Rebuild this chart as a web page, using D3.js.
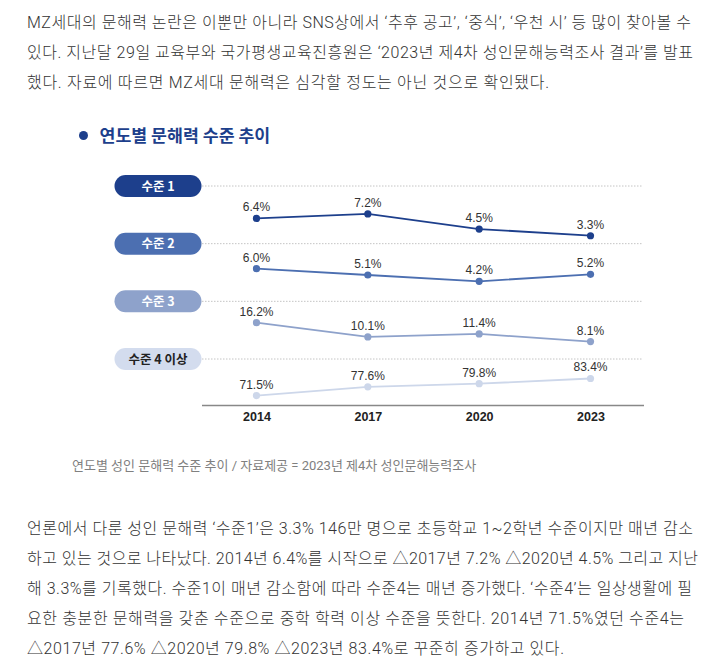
<!DOCTYPE html>
<html><head><meta charset="utf-8">
<script src="https://cdn.jsdelivr.net/npm/d3@7"></script>
<style>
html,body{margin:0;padding:0;background:#fff;}
svg{display:block;}
</style></head>
<body>
<script>
// ---- data ----
const years = ["2014", "2017", "2020", "2023"];
const levelNames = ["수준 1", "수준 2", "수준 3", "수준 4 이상"];
const level1 = [6.4, 7.2, 4.5, 3.3];
const level2 = [6.0, 5.1, 4.2, 5.2];
const level3 = [16.2, 10.1, 11.4, 8.1];
const level4 = [71.5, 77.6, 79.8, 83.4];
const chartTitle = "연도별 문해력 수준 추이";
const caption = "연도별 성인 문해력 수준 추이 / 자료제공 = 2023년 제4차 성인문해능력조사";
const introLines = [
  "MZ세대의 문해력 논란은 이뿐만 아니라 SNS상에서 ‘추후 공고’, ‘중식’, ‘우천 시’ 등 많이 찾아볼 수",
  "있다. 지난달 29일 교육부와 국가평생교육진흥원은 ‘2023년 제4차 성인문해능력조사 결과’를 발표",
  "했다. 자료에 따르면 MZ세대 문해력은 심각할 정도는 아닌 것으로 확인됐다."
];
const bodyLines = [
  "언론에서 다룬 성인 문해력 ‘수준1’은 3.3% 146만 명으로 초등학교 1~2학년 수준이지만 매년 감소",
  "하고 있는 것으로 나타났다. 2014년 6.4%를 시작으로 △2017년 7.2% △2020년 4.5% 그리고 지난",
  "해 3.3%를 기록했다. 수준1이 매년 감소함에 따라 수준4는 매년 증가했다. ‘수준4’는 일상생활에 필",
  "요한 충분한 문해력을 갖춘 수준으로 중학 학력 이상 수준을 뜻한다. 2014년 71.5%였던 수준4는",
  "△2017년 77.6% △2020년 79.8% △2023년 83.4%로 꾸준히 증가하고 있다."
];

// ---- layout / style ----
const W = 716, H = 672;
const introWidths = [664, 666, 522];
const bodyWidths = [666, 671, 665, 657, 537];
const series = [
  {name: levelNames[0], values: level1, color: "#1d3f8c", pill: "#1d3f8c", text: "#fff", domain: [3, 8], off: [51.4, 23.5]},
  {name: levelNames[1], values: level2, color: "#4c6fb1", pill: "#4c6fb1", text: "#fff", domain: [4, 7], off: [39.1, 17.9]},
  {name: levelNames[2], values: level3, color: "#8ea2cb", pill: "#8ea2cb", text: "#fff", domain: [8, 17], off: [40.5, 19.5]},
  {name: levelNames[3], values: level4, color: "#cdd7ea", pill: "#d3dcee", text: "#222", domain: [70, 85], off: [38.75, 17.2]}
];
const bandY = d3.scalePoint().domain(levelNames).range([186, 359]);
const x = d3.scalePoint().domain(years).range([256.5, 590.5]);
const plotL = 202, plotR = 644, axisY = 405.5;

const svg = d3.select("body").append("svg").attr("width", W).attr("height", H);

const paraFont = "Roboto, 'Noto Sans CJK KR', sans-serif";
svg.append("g").selectAll("text").data(introLines).join("text")
  .attr("x", 27).attr("y", (d, i) => 28 + i * 30)
  .attr("textLength", (d, i) => introWidths[i]).attr("lengthAdjust", "spacing")
  .attr("font-family", paraFont).attr("font-size", 16).attr("font-weight", 300).attr("fill", "#333")
  .text(d => d);
svg.append("g").selectAll("text").data(bodyLines).join("text")
  .attr("x", 27).attr("y", (d, i) => 534 + i * 30)
  .attr("textLength", (d, i) => bodyWidths[i]).attr("lengthAdjust", "spacing")
  .attr("font-family", paraFont).attr("font-size", 16).attr("font-weight", 300).attr("fill", "#333")
  .text(d => d);

// title
svg.append("circle").attr("cx", 83.5).attr("cy", 135.5).attr("r", 4.5).attr("fill", "#1d3f8c");
svg.append("text").attr("x", 99.5).attr("y", 142)
  .attr("font-family", "'Noto Sans CJK KR', sans-serif").attr("font-weight", 700)
  .attr("font-size", 17.3).attr("fill", "#1d3f8c").text(chartTitle);

// dotted lines and pills
const g = svg.append("g");
series.forEach(s => {
  const cy = bandY(s.name);
  g.append("line").attr("x1", plotL).attr("x2", plotR - 1).attr("y1", cy).attr("y2", cy)
    .attr("stroke", "#c4c4c4").attr("stroke-width", 1).attr("stroke-dasharray", "1.5,1.5");
  g.append("rect").attr("x", 114.5).attr("y", cy - 11).attr("width", 87).attr("height", 22)
    .attr("rx", 11).attr("fill", s.pill);
  g.append("text").attr("x", 158).attr("y", cy + 4.5).attr("text-anchor", "middle")
    .attr("font-family", "'Noto Sans CJK KR', sans-serif").attr("font-weight", 700)
    .attr("font-size", 12.5).attr("fill", s.text).text(s.name);
});

// axis
const xAxis = d3.axisBottom(x).tickSize(0).tickPadding(7);
const ax = svg.append("g").attr("transform", `translate(0,${axisY})`).call(xAxis);
ax.select(".domain").attr("d", `M${plotL},0H${plotR}`).attr("stroke", "#888").attr("stroke-width", 1.5);
ax.selectAll("text").attr("font-family", "'Liberation Sans', Arial, sans-serif")
  .attr("font-weight", 700).attr("font-size", 12.5).attr("fill", "#222");

// series lines
series.forEach(s => {
  const cy = bandY(s.name);
  const y = d3.scaleLinear().domain(s.domain).range([cy + s.off[0], cy + s.off[1]]);
  const pts = s.values.map((v, i) => ({x: x(years[i]), y: y(v), v}));
  svg.append("path").datum(pts)
    .attr("d", d3.line().x(d => d.x).y(d => d.y))
    .attr("fill", "none").attr("stroke", s.color).attr("stroke-width", 1.8);
  svg.append("g").selectAll("circle").data(pts).join("circle")
    .attr("cx", d => d.x).attr("cy", d => d.y).attr("r", 3.6).attr("fill", s.color);
  svg.append("g").selectAll("text").data(pts).join("text")
    .attr("x", d => d.x).attr("y", d => d.y - 7).attr("text-anchor", "middle")
    .attr("font-family", "'Liberation Sans', Arial, sans-serif").attr("font-size", 12)
    .attr("fill", "#333").text(d => d.v.toFixed(1) + "%");
});

// caption
svg.append("text").attr("x", 72).attr("y", 470)
  .attr("font-family", paraFont).attr("font-size", 13).attr("fill", "#808080").text(caption);
</script>
</body></html>
